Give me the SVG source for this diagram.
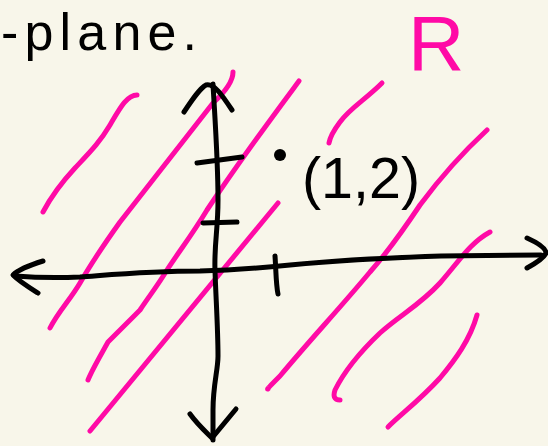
<svg xmlns="http://www.w3.org/2000/svg" width="548" height="446" viewBox="0 0 548 446">
<style>
.ink{fill:none;stroke:#000;stroke-width:5;stroke-linecap:round;stroke-linejoin:round}
.pink{fill:none;stroke:#FF0AA6;stroke-width:5;stroke-linecap:round;stroke-linejoin:round}
.hand{font-family:"Liberation Sans","DejaVu Sans",sans-serif}
</style>
<rect width="548" height="446" fill="#F8F6EA"/>
<g id="region">
<path class="pink" d="M137,95 C127,95 120,108 110,125 C100,142 90,152 75,168 C62,182 52,195 43,212"/>
<path class="pink" d="M233,72 C233,82 225,92 213,103 L120,222 C105,243 92,262 80,283 C70,300 58,312 50,328"/>
<path class="pink" d="M299,81 C270,120 240,160 207,210 C192,235 180,250 167,270 C158,285 150,295 140,310 C128,322 115,335 108,342 C98,360 92,370 88,380"/>
<path class="pink" d="M278,203 L90,431"/>
<path class="pink" d="M382,83 C365,100 350,108 340,122 C334,130 330,137 329,143"/>
<path class="pink" d="M487,130 C460,155 440,178 420,205 C400,235 385,255 370,272 C340,308 310,340 280,376 C272,384 266,390 268,389"/>
<path class="pink" d="M490,232 C470,243 460,260 440,283 C420,305 400,315 380,333 C360,352 345,370 335,390 C333,396 334,400 340,400"/>
<path class="pink" d="M477,315 C470,340 455,360 440,378 C420,400 400,415 388,427"/>
</g>
<g id="axes">
<path class="ink" d="M213,84 C215,120 218,160 218,200 C218,230 214,245 215,271 C216,300 218,330 218,356 C218,370 213,385 213,410 L213,440"/>
<path class="ink" d="M184,112 C192,100 200,88 206,85 C214,83 222,95 232,110"/>
<path class="ink" d="M190,414 C198,425 206,432 212,438 L236,409"/>
<path class="ink" d="M15,276 C40,278 60,278 80,277 C120,274 150,271 200,271 C240,270 260,268 290,265 C330,261 380,258 441,256 L541,255"/>
<path class="ink" d="M527,238 C538,243 546,248 546,253 C544,258 536,263 527,268"/>
<path class="ink" d="M43,261 C30,265 18,270 13,275 C20,282 30,288 38,293"/>
<path class="ink" d="M275,256 C276,270 276,285 278,294"/>
<path class="ink" d="M197,163 L242,157"/>
<path class="ink" d="M203,223 L237,222"/>
</g>
<g id="point">
<circle cx="280" cy="155" r="6" fill="#000"/>
<text class="hand" x="302" y="198" font-size="57" fill="#000" textLength="118" lengthAdjust="spacingAndGlyphs">(1,2)</text>
</g>
<g id="labels">
<text class="hand" x="1" y="50" font-size="52" fill="#000" textLength="196" lengthAdjust="spacing">-plane.</text>
<text class="hand" x="408" y="70" font-size="78" fill="#FF0AA6">R</text>
</g>
</svg>
